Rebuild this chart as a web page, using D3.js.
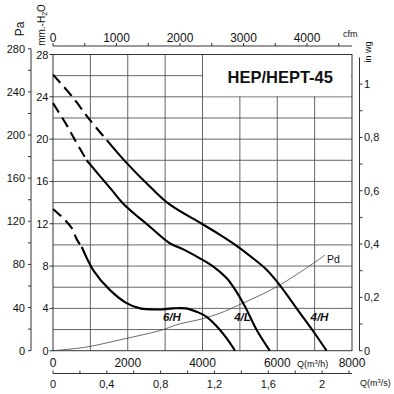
<!DOCTYPE html>
<html><head><meta charset="utf-8">
<script src="https://cdn.jsdelivr.net/npm/d3@7"></script>
<style>body{margin:0;background:#fff}text{font-family:"Liberation Sans",Arial,sans-serif;fill:#111}</style>
</head><body>
<svg id="c" width="394" height="394"></svg>
<script>
// ---- data (Q in m3/h, pressure in mm H2O) ----
const title = "HEP/HEPT-45";
const fan4H_dash = [[0,26.1],[540,23.9],[990,21.8],[1440,19.9]];
const fan4H = [[1440,19.9],[1930,17.9],[2640,15.35],[3130,13.8],[3980,12.0],[4470,10.95],[4960,9.8],[5400,8.6],[5700,7.7],[6000,6.5],[6600,3.6],[7000,1.65],[7320,0]];
const fan4L_dash = [[0,23.4],[370,21.3],[590,19.9],[900,18.0]];
const fan4L = [[900,18.0],[1570,15.2],[1880,13.9],[2600,11.7],[3130,10.15],[3500,9.55],[3930,8.73],[4290,7.94],[4650,6.84],[4820,6.05],[5140,4.16],[5450,1.96],[5800,0]];
const fan6H_dash = [[0,13.4],[190,12.8],[320,12.35],[500,11.6],[640,10.5],[770,9.8]];
const fan6H = [[770,9.8],[1080,7.6],[1520,5.75],[1970,4.5],[2330,4.0],[2860,3.9],[3200,4.0],[3550,4.0],[3900,3.6],[4110,3.2],[4470,1.96],[4700,0.9],[4870,0]];
const pd = [[0,0],[900,0.35],[1880,1.1],[2860,1.9],[3400,2.55],[3930,2.95],[4470,3.55],[4960,4.3],[5990,6.05],[6960,8.25],[7280,9.05]];
const curveLabels = [["6/H",3180],["4/L",5070],["4/H",7130]];
const qTicks = [0,2000,4000,6000,8000];
const mmTicks = [0,4,8,12,16,20,24,28];
const paTicks = [0,40,80,120,160,200,240,280];
const cfmTicks = [0,1000,2000,3000,4000];
const inwgTicks = [0,0.2,0.4,0.6,0.8,1];
const m3sTicks = [0,0.4,0.8,1.2,1.6,2];

const svg = d3.select("#c");
const x = d3.scaleLinear([0,8000],[53,352]);
const y = d3.scaleLinear([0,28],[350.7,54.5]);
const yPa = d3.scaleLinear([0,280],[y(0), y(280/9.81)]);
const yIn = d3.scaleLinear([0,1.1],[y(0), y(1.1*25.2)]);
const xCfm = d3.scaleLinear([0,4700],[x(0), x(4700*1.699)]);
const xS = d3.scaleLinear([0,2.2],[x(0), x(2.2*3600)]);

// grid
const g = svg.append("g").attr("stroke","#555").attr("stroke-width",0.9);
d3.range(1000,8000,1000).forEach(v=>g.append("line").attr("x1",x(v)).attr("x2",x(v)).attr("y1",y(0)).attr("y2",y(28)));
d3.range(2,28,2).forEach(v=>g.append("line").attr("x1",x(0)).attr("x2",x(8000)).attr("y1",y(v)).attr("y2",y(v)));
// title box
svg.append("rect").attr("x",x(4000)+0.6).attr("y",y(28)+0.6).attr("width",x(8000)-x(4000)-1.2).attr("height",y(24)-y(28)-1.2).attr("fill","#fff");
svg.append("text").attr("x",(x(4000)+x(8000))/2+3).attr("y",83).attr("text-anchor","middle").attr("font-size",16.5).attr("font-weight","bold").text(title);
// frame
svg.append("rect").attr("x",x(0)).attr("y",y(28)).attr("width",x(8000)-x(0)).attr("height",y(0)-y(28)).attr("fill","none").attr("stroke","#333").attr("stroke-width",1);

// left Pa axis
const pa = svg.append("g");
pa.append("line").attr("x1",31).attr("x2",31).attr("y1",yPa(280)).attr("y2",yPa(0)).attr("stroke","#333");
d3.range(0,281,20).forEach(v=>pa.append("line").attr("x1",28).attr("x2",31).attr("y1",yPa(v)).attr("y2",yPa(v)).attr("stroke","#333"));
paTicks.forEach(v=>pa.append("text").attr("x",25).attr("y",yPa(v)+4).attr("text-anchor","end").attr("font-size",11).text(v));
svg.append("text").attr("transform","translate(24,29) rotate(-90)").attr("text-anchor","middle").attr("font-size",12).text("Pa");
// mm axis
mmTicks.forEach(v=>{
  svg.append("line").attr("x1",49.5).attr("x2",53).attr("y1",y(v)).attr("y2",y(v)).attr("stroke","#333");
  svg.append("text").attr("x",48.5).attr("y",y(v)+4).attr("text-anchor","end").attr("font-size",11).text(v);
});
const mmT = svg.append("text").attr("transform","translate(45,25) rotate(-90)").attr("text-anchor","middle").attr("font-size",10);
mmT.append("tspan").text("mm.-H");
mmT.append("tspan").attr("font-size",7).attr("dy",2).text("2");
mmT.append("tspan").attr("dy",-2).text("O");

// top cfm axis
svg.append("line").attr("x1",x(0)).attr("x2",x(8000)).attr("y1",46).attr("y2",46).attr("stroke","#333");
d3.range(0,4700,500).forEach(v=>svg.append("line").attr("x1",xCfm(v)).attr("x2",xCfm(v)).attr("y1",43).attr("y2",46).attr("stroke","#333"));
cfmTicks.forEach(v=>svg.append("text").attr("x",xCfm(v)).attr("y",42).attr("text-anchor","middle").attr("font-size",12).text(v));
svg.append("text").attr("x",343).attr("y",37).attr("font-size",9).text("cfm");

// right in wg axis
svg.append("line").attr("x1",359.5).attr("x2",359.5).attr("y1",yIn(1.1)).attr("y2",yIn(0)).attr("stroke","#333");
d3.range(0,11).forEach(i=>{const v=i/10;svg.append("line").attr("x1",359.5).attr("x2",362.5).attr("y1",yIn(v)).attr("y2",yIn(v)).attr("stroke","#333");});
inwgTicks.forEach(v=>svg.append("text").attr("x",364).attr("y",yIn(v)+4).attr("font-size",11).text(String(v).replace(".",",")));
svg.append("text").attr("transform","translate(371,52) rotate(-90)").attr("text-anchor","middle").attr("font-size",9).text("in wg");

// bottom m3/h labels
qTicks.forEach(v=>svg.append("text").attr("x",x(v)).attr("y",367).attr("text-anchor","middle").attr("font-size",12).text(v));
const qh = svg.append("text").attr("x",297).attr("y",367).attr("font-size",9);
qh.append("tspan").text("Q(m");
qh.append("tspan").attr("font-size",6).attr("dy",-3).text("3");
qh.append("tspan").attr("dy",3).text("/h)");
// bottom m3/s axis
svg.append("line").attr("x1",x(0)).attr("x2",x(8000)).attr("y1",373.5).attr("y2",373.5).attr("stroke","#333");
d3.range(0,23,2).forEach(i=>{const v=i/10;svg.append("line").attr("x1",xS(v)).attr("x2",xS(v)).attr("y1",370.5).attr("y2",373.5).attr("stroke","#333");});
m3sTicks.forEach(v=>svg.append("text").attr("x",xS(v)).attr("y",388).attr("text-anchor","middle").attr("font-size",11).text(String(v).replace(".",",")));
const qs = svg.append("text").attr("x",360).attr("y",386).attr("font-size",9);
qs.append("tspan").text("Q(m");
qs.append("tspan").attr("font-size",6).attr("dy",-3).text("3");
qs.append("tspan").attr("dy",3).text("/s)");

// curves
const line = d3.line().x(d=>x(d[0])).y(d=>y(d[1])).curve(d3.curveCatmullRom.alpha(0.5));
svg.append("path").attr("d",line(pd)).attr("fill","none").attr("stroke","#444").attr("stroke-width",0.8);
svg.append("text").attr("x",327).attr("y",263).attr("font-size",10.5).text("Pd");
[fan4H_dash,fan4L_dash,fan6H_dash].forEach(d=>svg.append("path").attr("d",line(d)).attr("fill","none").attr("stroke","#000").attr("stroke-width",2.1).attr("stroke-dasharray","11,6"));
[fan4H,fan4L,fan6H].forEach(d=>svg.append("path").attr("d",line(d)).attr("fill","none").attr("stroke","#000").attr("stroke-width",2.1));
curveLabels.forEach(([t,q])=>svg.append("text").attr("x",x(q)).attr("y",321).attr("text-anchor","middle").attr("font-size",11.5).attr("font-weight","bold").attr("font-style","italic").text(t));
</script>
</body></html>
